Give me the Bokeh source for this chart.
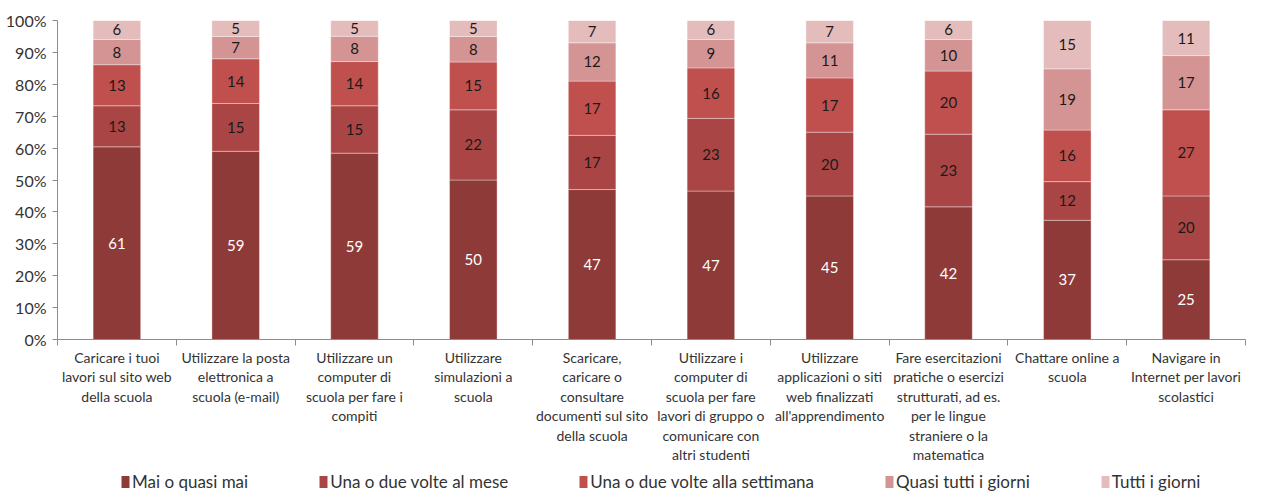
from bokeh.plotting import figure
from bokeh.layouts import column
from bokeh.models import (Range1d, LinearAxis, FixedTicker, PrintfTickFormatter,
                          Legend, LegendItem, ColumnDataSource)
from bokeh.embed import file_html
from bokeh.resources import INLINE
from bokeh.core.properties import value

categories = [
    "Caricare i tuoi\nlavori sul sito web\ndella scuola",
    "Utilizzare la posta\nelettronica a\nscuola (e-mail)",
    "Utilizzare un\ncomputer di\nscuola per fare i\ncompiti",
    "Utilizzare\nsimulazioni a\nscuola",
    "Scaricare,\ncaricare o\nconsultare\ndocumenti sul sito\ndella scuola",
    "Utilizzare i\ncomputer di\nscuola per fare\nlavori di gruppo o\ncomunicare con\naltri studenti",
    "Utilizzare\napplicazioni o siti\nweb finalizzati\nall'apprendimento",
    "Fare esercitazioni\npratiche o esercizi\nstrutturati, ad es.\nper le lingue\nstraniere o la\nmatematica",
    "Chattare online a\nscuola",
    "Navigare in\nInternet per lavori\nscolastici",
]
series_names = ["Mai o quasi mai", "Una o due volte al mese",
                "Una o due volte alla settimana", "Quasi tutti i giorni",
                "Tutti i giorni"]
mai = [61, 59, 59, 50, 47, 47, 45, 42, 37, 25]
mese = [13, 15, 15, 22, 17, 23, 20, 23, 12, 20]
settimana = [13, 14, 14, 15, 17, 16, 17, 20, 16, 27]
quasi = [8, 7, 8, 8, 12, 9, 11, 10, 19, 17]
tutti = [6, 5, 5, 5, 7, 6, 7, 6, 15, 11]
colors = ["#8E3A38", "#A94645", "#C0504E", "#D49493", "#E5BCBC"]
label_colors = ["white", "#1a1a1a", "#1a1a1a", "#1a1a1a", "#1a1a1a"]

series = [mai, mese, settimana, quasi, tutti]
keys = ["s0", "s1", "s2", "s3", "s4"]
n = len(categories)
xs = [i + 0.5 for i in range(n)]
totals = [sum(s[i] for s in series) for i in range(n)]
norm = {k: [s[i] / totals[i] * 100 for i in range(n)] for k, s in zip(keys, series)}
src = ColumnDataSource(dict(x=xs, **norm))

FONT = "Lato"
TXT = "#333333"

p = figure(width=1253, height=468, output_backend="svg",
           toolbar_location=None,
           x_range=Range1d(0, n), y_range=Range1d(0, 100),
           min_border_left=57, min_border_right=8, min_border_top=20,
           min_border_bottom=129, outline_line_color=None,
           x_axis_location=None, y_axis_location=None)
p.xgrid.visible = False
p.ygrid.visible = False

rs = p.vbar_stack(keys, x="x", width=0.4, source=src, color=colors,
                  line_color="white", line_alpha=0.35, line_width=1)

# segment labels
for j, (k, s) in enumerate(zip(keys, series)):
    mids = []
    for i in range(n):
        base = sum(norm[keys[m]][i] for m in range(j))
        mids.append(base + norm[k][i] / 2)
    ls = ColumnDataSource(dict(x=xs, y=mids, t=[str(v) for v in s]))
    p.text(x="x", y="y", text="t", source=ls, text_align="center",
           text_baseline="middle", text_font=value(FONT),
           text_font_size="15px", text_color=label_colors[j])

# y axis
yax = LinearAxis(ticker=FixedTicker(ticks=list(range(0, 101, 10))),
                 formatter=PrintfTickFormatter(format="%d%%"),
                 axis_line_color="#8c8c8c", major_tick_line_color="#8c8c8c",
                 major_tick_out=5, major_tick_in=0, minor_tick_line_color=None,
                 major_label_text_font=FONT, major_label_text_font_size="16px",
                 major_label_text_color=TXT, major_label_standoff=6)
p.add_layout(yax, "left")

# x axis with boundary ticks
xax = LinearAxis(ticker=FixedTicker(ticks=list(range(0, n + 1))),
                 axis_line_color="#8c8c8c", major_tick_line_color="#8c8c8c",
                 major_tick_out=6, major_tick_in=0, minor_tick_line_color=None,
                 major_label_overrides={i: "" for i in range(n + 1)},
                 major_label_text_font_size="0px", major_label_standoff=0)
p.add_layout(xax, "below")

# category labels
cax = LinearAxis(ticker=FixedTicker(ticks=xs),
                 major_label_overrides={x: c for x, c in zip(xs, categories)},
                 axis_line_color=None, major_tick_line_color=None,
                 minor_tick_line_color=None, major_label_standoff=-3,
                 major_label_text_font=FONT, major_label_text_font_size="14px",
                 major_label_text_color=TXT, major_label_text_line_height=1.15)
p.add_layout(cax, "below")

# legend strip
p2 = figure(width=1253, height=26, output_backend="svg", toolbar_location=None,
            x_range=Range1d(0, 1), y_range=Range1d(0, 1), min_border=0,
            outline_line_color=None, x_axis_location=None, y_axis_location=None)
p2.xgrid.visible = False
p2.ygrid.visible = False
lrs = [p2.vbar(x=[0.5], top=[0], bottom=[0], width=0.0, fill_color=c,
               line_color=c, line_alpha=0) for c in colors]
legend = Legend(items=[LegendItem(label=nm, renderers=[r]) for nm, r in zip(series_names, lrs)],
                orientation="horizontal", location=(63, 2),
                label_text_font=FONT, label_text_font_size="17px",
                label_text_color=TXT, glyph_width=10, glyph_height=15,
                spacing=70, label_standoff=2, border_line_color=None,
                background_fill_alpha=0, padding=0, margin=0)
p2.add_layout(legend, "center")

open("out.html", "w").write(file_html(column(p, p2, spacing=0), INLINE))
